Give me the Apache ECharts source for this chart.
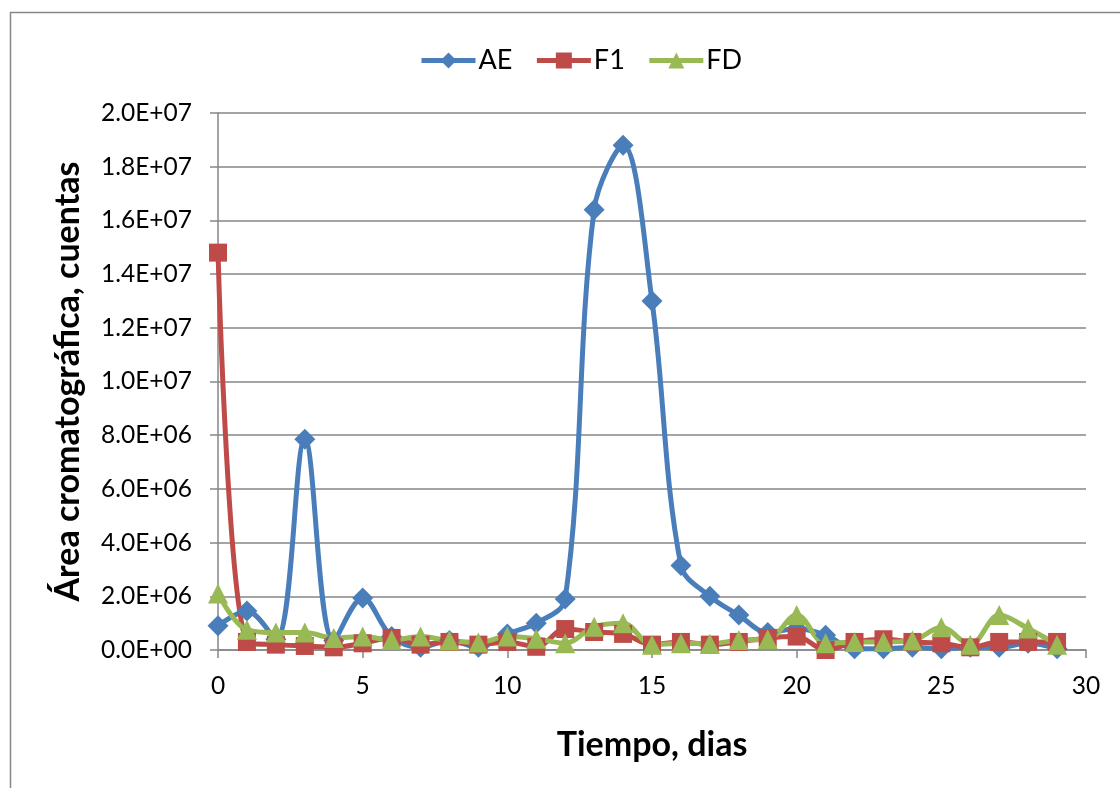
<!DOCTYPE html>
<html>
<head>
<meta charset="utf-8">
<script src="https://cdn.jsdelivr.net/npm/echarts@6/dist/echarts.min.js"></script>
<style>
  html, body { margin: 0; padding: 0; background: #fff; }
  #chart { width: 1120px; height: 788px; }
</style>
</head>
<body>
<div id="chart"></div>
<script>
// dias 0..29
var dias = [0, 1, 2, 3, 4, 5, 6, 7, 8, 9, 10, 11, 12, 13, 14, 15, 16, 17, 18, 19, 20, 21, 22, 23, 24, 25, 26, 27, 28, 29];
// áreas (millones de cuentas)
var ae = [0.9, 1.45, 0.4, 7.85, 0.35, 1.94, 0.5, 0.1, 0.35, 0.1, 0.6, 1.0, 1.9, 16.4, 18.8, 13.0, 3.15, 2.0, 1.3, 0.65, 0.8, 0.55, 0.05, 0.05, 0.1, 0.05, 0.1, 0.1, 0.25, 0.05];
var f1 = [14.8, 0.3, 0.2, 0.15, 0.1, 0.25, 0.45, 0.2, 0.3, 0.2, 0.3, 0.12, 0.78, 0.67, 0.6, 0.2, 0.3, 0.2, 0.3, 0.45, 0.5, 0.0, 0.3, 0.4, 0.3, 0.25, 0.1, 0.3, 0.3, 0.3];
var fd = [2.1, 0.75, 0.65, 0.65, 0.45, 0.5, 0.37, 0.5, 0.35, 0.28, 0.5, 0.42, 0.25, 0.87, 1.0, 0.2, 0.25, 0.23, 0.37, 0.4, 1.3, 0.25, 0.3, 0.3, 0.35, 0.85, 0.2, 1.3, 0.8, 0.2];
var yTicks = [0, 2e6, 4e6, 6e6, 8e6, 1e7, 1.2e7, 1.4e7, 1.6e7, 1.8e7, 2e7];

function pares(vals) {
  return vals.map(function (v, i) { return [dias[i], v * 1e6]; });
}

function sci(v) {
  var s = Number(v).toExponential(1).split('e');
  var exp = parseInt(s[1], 10);
  var sign = exp < 0 ? '-' : '+';
  exp = Math.abs(exp);
  return s[0] + 'E' + sign + (exp < 10 ? '0' + exp : exp);
}

var fuente = 'Lato, "Open Sans", sans-serif';
var chart = echarts.init(document.getElementById('chart'));

var option = {
  animation: false,
  backgroundColor: '#fff',
  textStyle: { fontFamily: fuente },
  graphic: [{
    type: 'rect',
    shape: { x: 10.5, y: 12.5, width: 1200, height: 900 },
    style: { fill: 'none', stroke: '#868686', lineWidth: 1.5 },
    silent: true
  }],
  legend: {
    top: 42,
    left: 414,
    itemWidth: 54,
    itemHeight: 20,
    itemGap: 22,
    lineStyle: { width: 5 },
    textStyle: { fontSize: 27, color: '#000', fontFamily: fuente, padding: [0, 0, 0, -2] },
    data: ['AE', 'F1', 'FD']
  },
  grid: { left: 218, right: 34, top: 113, bottom: 138 },
  xAxis: {
    type: 'value',
    min: 0, max: 30, interval: 5,
    name: 'Tiempo, dias',
    nameLocation: 'middle',
    nameGap: 78,
    nameTextStyle: { fontSize: 34, fontWeight: 'bold', color: '#000', fontFamily: fuente },
    axisLine: { lineStyle: { color: '#868686', width: 1.5 } },
    axisTick: { show: true, length: 8, lineStyle: { color: '#868686', width: 1.5 } },
    axisLabel: { fontSize: 24.5, color: '#000', margin: 24, fontFamily: fuente },
    splitLine: { show: false }
  },
  yAxis: {
    type: 'value',
    min: 0, max: yTicks[yTicks.length - 1], interval: yTicks[1] - yTicks[0],
    name: 'Área cromatográfica, cuentas',
    nameLocation: 'middle',
    nameGap: 133,
    nameTextStyle: { fontSize: 34, fontWeight: 'bold', color: '#000', fontFamily: fuente },
    axisLine: { show: true, lineStyle: { color: '#868686', width: 1.5 } },
    axisTick: { show: true, length: 8, lineStyle: { color: '#868686', width: 1.5 } },
    axisLabel: { fontSize: 24.5, color: '#000', margin: 26, fontFamily: fuente, formatter: sci },
    splitLine: { lineStyle: { color: '#868686', width: 1.5 } }
  },
  series: [
    {
      name: 'AE', type: 'line', smooth: 0.35,
      data: pares(ae),
      symbol: 'diamond', symbolSize: 21,
      lineStyle: { width: 5, color: '#4A7EBB' },
      itemStyle: { color: '#4A7EBB' }
    },
    {
      name: 'F1', type: 'line', smooth: 0.35,
      data: pares(f1),
      symbol: 'rect', symbolSize: 18,
      lineStyle: { width: 5, color: '#BE4B48' },
      itemStyle: { color: '#BE4B48' }
    },
    {
      name: 'FD', type: 'line', smooth: 0.35,
      data: pares(fd),
      symbol: 'triangle', symbolSize: 20,
      lineStyle: { width: 5, color: '#98B954' },
      itemStyle: { color: '#98B954' }
    }
  ]
};

chart.setOption(option);
</script>
</body>
</html>
